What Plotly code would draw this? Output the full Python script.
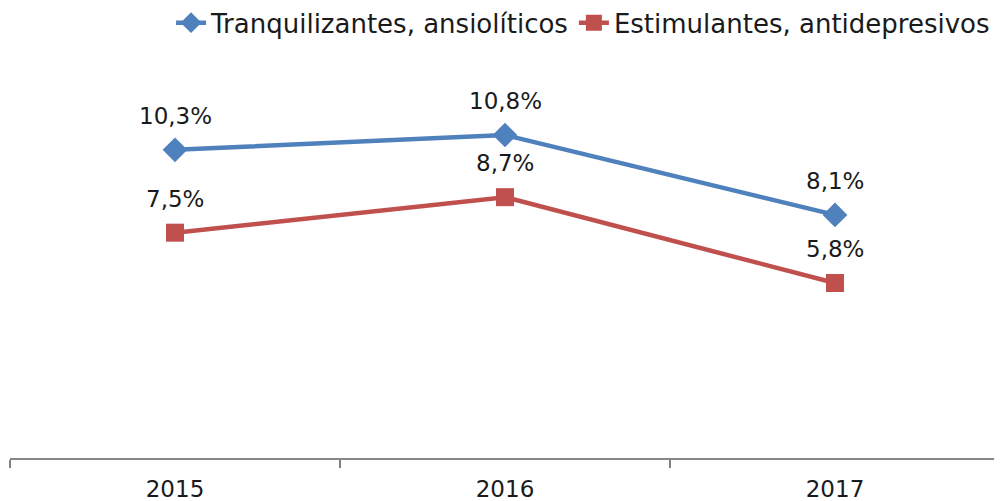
import plotly.graph_objects as go

years = ["2015", "2016", "2017"]
tranq = [10.3, 10.8, 8.1]
estim = [7.5, 8.7, 5.8]
series_names = ["Tranquilizantes, ansiolíticos", "Estimulantes, antidepresivos"]

BLUE = "#4F81BD"
RED = "#C0504D"
FONT = "DejaVu Sans"
TXT = "#1a1a1a"

def fmt(v):
    return f"{v:.1f}".replace(".", ",") + "%"

fig = go.Figure()
fig.add_trace(go.Scatter(x=years, y=tranq, name=series_names[0], mode="lines+markers",
                         line=dict(color=BLUE, width=4.5),
                         marker=dict(symbol="diamond", size=19, color=BLUE)))
fig.add_trace(go.Scatter(x=years, y=estim, name=series_names[1], mode="lines+markers",
                         line=dict(color=RED, width=4.5),
                         marker=dict(symbol="square", size=18, color=RED)))

for ys in (tranq, estim):
    for i, v in enumerate(ys):
        fig.add_annotation(x=i, y=v, xref="x", yref="y", text=fmt(v), showarrow=False,
                           yshift=34, font=dict(family=FONT, size=23, color=TXT))

# page body has an 8px margin, so the figure is sized/offset to compensate
fig.update_layout(
    width=994, height=493,
    margin=dict(l=2, r=2, t=5, b=43, autoexpand=False),
    paper_bgcolor="white", plot_bgcolor="white",
    font=dict(family=FONT, size=23, color=TXT),
    showlegend=True,
    legend=dict(orientation="h", x=0.995, xanchor="right", yref="container", y=0.97,
                yanchor="middle", font=dict(family=FONT, size=26, color=TXT),
                bgcolor="rgba(0,0,0,0)", tracegroupgap=0),
    xaxis=dict(type="category", tickson="boundaries", ticks="outside", ticklen=8,
               tickcolor="#808080", tickwidth=2, showline=True, linecolor="#868686",
               linewidth=2, showgrid=False, zeroline=False, range=[-0.5, 2.5],
               automargin=False, ticklabelstandoff=9,
               tickfont=dict(family=FONT, size=23, color=TXT)),
    yaxis=dict(range=[-0.11, 14.92], showticklabels=False, ticks="", showline=False,
               showgrid=False, zeroline=False, automargin=False),
)

fig.write_html("out.html")
